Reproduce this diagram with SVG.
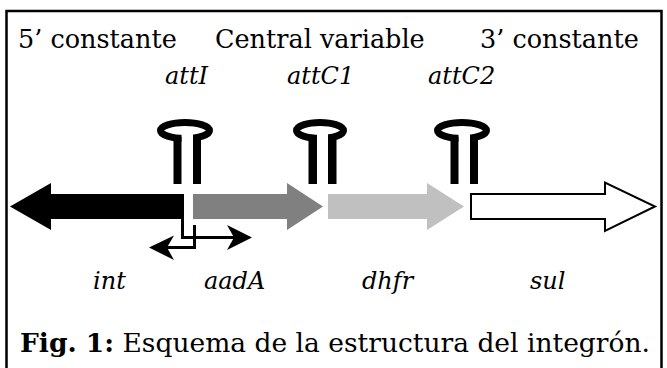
<svg xmlns="http://www.w3.org/2000/svg" width="667" height="368" viewBox="0 0 667 368">
<style>
.t{font-family:"DejaVu Serif","Liberation Serif",serif;font-size:25.5px;fill:#000}
.i{font-family:"DejaVu Serif","Liberation Serif",serif;font-style:italic;font-size:24px;fill:#000}
.c{font-family:"DejaVu Serif","Liberation Serif",serif;font-size:26.5px;fill:#000}
.loop{fill:none;stroke:#000;stroke-width:7}
.stem{fill:#000}
.ln{fill:none;stroke:#000;stroke-width:3}
</style>
<rect x="6.5" y="11" width="655" height="362" fill="#fff" stroke="#000" stroke-width="2.5"/>
<g id="labels">
<text class="t" x="18" y="48">5’ constante</text>
<text class="t" x="215" y="48">Central variable</text>
<text class="t" x="480" y="48">3’ constante</text>
<text class="i" x="165" y="84">attI</text>
<text class="i" x="287" y="84">attC1</text>
<text class="i" x="428" y="84">attC2</text>
<text class="i" x="93" y="289">int</text>
<text class="i" x="204" y="289">aadA</text>
<text class="i" x="362" y="289">dhfr</text>
<text class="i" x="530" y="289">sul</text>
<text class="c" x="20" y="352"><tspan font-weight="bold">Fig. 1:</tspan> Esquema de la estructura del integrón.</text>
</g>
<g id="int">
<polygon points="10,206.5 51,183 51,194 184,194 184,219 51,219 51,230" fill="#000"/>
</g>
<g id="aadA">
<polygon points="193,194 287,194 287,183 323,206.5 287,230 287,219 193,219" fill="#808080"/>
</g>
<g id="dhfr">
<polygon points="328,194 427,194 427,183 464,206.5 427,230 427,219 328,219" fill="#c0c0c0"/>
</g>
<g id="sul">
<polygon points="471,194 605,194 605,182.5 655,206.5 605,231 605,219 471,219" fill="#fff" stroke="#000" stroke-width="2"/>
</g>
<g id="hairpin-attI">
<ellipse class="loop" cx="185" cy="130.5" rx="24.5" ry="8"/>
<rect x="181.5" y="134" width="11.5" height="9" fill="#fff"/>
<rect class="stem" x="173.5" y="137" width="8" height="47"/>
<rect class="stem" x="193" y="137" width="8" height="47"/>
</g>
<g id="hairpin-attC1">
<ellipse class="loop" cx="320" cy="130.5" rx="23.5" ry="8"/>
<rect x="317" y="134" width="11" height="9" fill="#fff"/>
<rect class="stem" x="308.5" y="137" width="8.5" height="47"/>
<rect class="stem" x="328" y="137" width="8.5" height="47"/>
</g>
<g id="hairpin-attC2">
<ellipse class="loop" cx="462" cy="130.5" rx="24.5" ry="8"/>
<rect x="458.5" y="134" width="11.5" height="9" fill="#fff"/>
<rect class="stem" x="450.5" y="137" width="8" height="47"/>
<rect class="stem" x="470" y="137" width="8" height="47"/>
</g>
<g id="connectors">
<polyline class="ln" points="182.5,218 182.5,237.5 236,237.5"/>
<polygon points="252,237.5 227,225 234,237.5 227,250" fill="#000"/>
<polyline class="ln" points="194.5,225 194.5,247.5 166,247.5"/>
<polygon points="149,247.5 174,235.5 167,247.5 174,260" fill="#000"/>
</g>
</svg>
